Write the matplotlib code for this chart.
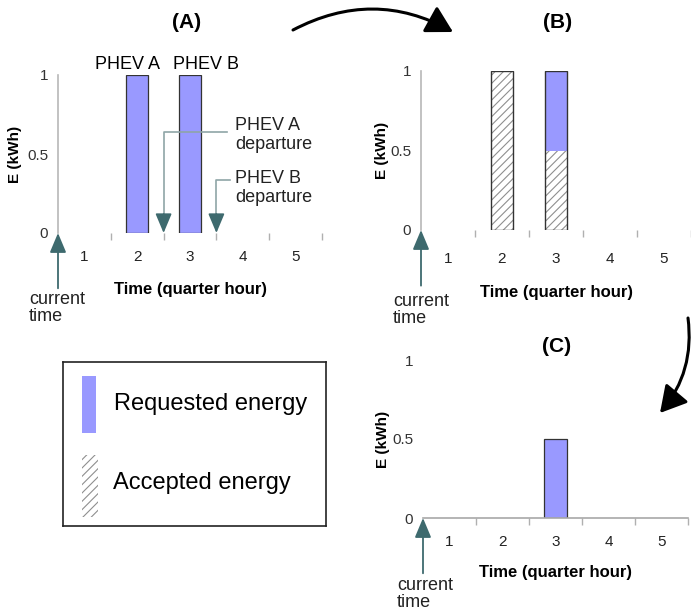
import numpy as np
import matplotlib
matplotlib.use("Agg")
import matplotlib.pyplot as plt
from matplotlib.patches import Rectangle, FancyArrowPatch

plt.rcParams['font.family'] = ['Liberation Sans', 'DejaVu Sans']
plt.rcParams['hatch.linewidth'] = 0.8

# ── data ────────────────────────────────────────────
slots = np.array([1, 2, 3, 4, 5])           # quarter hours
req_a = np.array([0, 1, 1, 0, 0])           # (A) requested energy, kWh
acc_b = np.array([0, 1, 0.5, 0, 0])         # (B) accepted energy
req_b = np.array([0, 0, 0.5, 0, 0])         # (B) still requested
req_c = np.array([0, 0, 0.5, 0, 0])         # (C) requested energy
ev_names = ["PHEV A", "PHEV B"]
ev_departure = [2.5, 3.5]
yticks = [0, 0.5, 1]
ytick_labels = ["0", "0.5", "1"]

BLUE = "#9999ff"
HATCH_GRAY = "#8f8f8f"
TEAL = "#3e6a6e"
LINE_GRAY = "#8fa5a7"
W, H = 691, 614
BAR_W = 0.42

fig = plt.figure(figsize=(W / 100, H / 100), dpi=100)


def px_axes(left, top, right, bottom):
    return fig.add_axes([left / W, 1 - bottom / H, (right - left) / W, (bottom - top) / H])


def ftext(px, py, s, **kw):
    fig.text(px / W, 1 - py / H, s, **kw)


def style(ax, left_line, bottom_line, tick_pad, xlab_y, ylab_x):
    ax.set_xlim(0.5, 5.5)
    ax.set_ylim(0, 1)
    ax.set_xticks(slots)
    ax.set_xticks(slots + 0.5, minor=True)
    ax.set_yticks(yticks)
    ax.set_yticklabels(ytick_labels)
    ax.tick_params(axis='x', which='major', length=0, pad=tick_pad, labelsize=11, labelcolor='#222222')
    ax.tick_params(axis='x', which='minor', length=5, width=1, color='#b0b0b0')
    ax.tick_params(axis='y', length=0, pad=7, labelsize=11, labelcolor='#333333')
    for side in ['top', 'right']:
        ax.spines[side].set_visible(False)
    ax.spines['left'].set_visible(left_line)
    ax.spines['left'].set_color('#b8b8b8')
    ax.spines['left'].set_linewidth(1.2)
    ax.spines['bottom'].set_visible(bottom_line)
    ax.spines['bottom'].set_color('#a8a8a8')
    ax.spines['bottom'].set_linewidth(1.2)
    ax.patch.set_alpha(0)
    ax.set_xlabel("Time (quarter hour)", fontsize=12, fontweight='bold')
    ax.xaxis.set_label_coords(0.5, xlab_y)
    ax.set_ylabel("E (kWh)", fontsize=11, fontweight='bold')
    ax.yaxis.set_label_coords(ylab_x, 0.5)
    # "current time" arrow
    ax.annotate("", xy=(0.5, 0), xytext=(0.5, -0.35), xycoords='data',
                arrowprops=dict(arrowstyle='-|>,head_length=1.0,head_width=0.42',
                                color=TEAL, lw=1.3, mutation_scale=12,
                                shrinkA=0, shrinkB=0),
                annotation_clip=False)


def edge_lw(vals, lw):
    return [lw if v > 0 else 0 for v in vals]


# ── (A) requests ────────────────────────────────────
ax_a = px_axes(58, 75, 322, 233)
style(ax_a, True, False, 12, -0.31, -0.136)
ax_a.bar(slots, req_a, BAR_W, color=BLUE, edgecolor='#333333', linewidth=edge_lw(req_a, 0.9))
for name, x, dx in zip(ev_names, slots[req_a > 0], [-0.18, 0.31]):
    ax_a.text(x + dx, 1.065, name, ha='center', va='center', fontsize=13, clip_on=False)
for name, dep, y_turn, x_end, y_txt in zip(ev_names, ev_departure, [0.64, 0.335],
                                           [3.70, 3.76], [0.62, 0.285]):
    ax_a.plot([x_end, dep, dep], [y_turn, y_turn, 0.1], color=LINE_GRAY, lw=1.2, clip_on=False)
    ax_a.annotate("", xy=(dep, 0), xytext=(dep, 0.12),
                  arrowprops=dict(arrowstyle='-|>,head_length=1.0,head_width=0.42',
                                  color=TEAL, lw=1.2, mutation_scale=12,
                                  shrinkA=0, shrinkB=0))
    ax_a.text(3.85, y_txt, name + "\ndeparture", ha='left', va='center', fontsize=13,
              color='#222222', clip_on=False)

# ── (B) accepted schedule ───────────────────────────
ax_b = px_axes(421, 71, 691, 230)
style(ax_b, True, False, 16, -0.346, -0.119)
ax_b.bar(slots, acc_b, BAR_W, color='white', hatch='////', edgecolor=HATCH_GRAY, linewidth=0)
ax_b.bar(slots, req_b, BAR_W, bottom=acc_b, color=BLUE, linewidth=0)
tot_b = acc_b + req_b
ax_b.bar(slots, tot_b, BAR_W, fill=False, edgecolor='#333333', linewidth=edge_lw(tot_b, 1.0))

# ── (C) remaining request ───────────────────────────
ax_c = px_axes(423, 360, 688, 518)
style(ax_c, False, True, 12, -0.30, -0.125)
ax_c.bar(slots, req_c, BAR_W, color=BLUE, edgecolor='#333333', linewidth=edge_lw(req_c, 0.9))

# ── panel titles and notes ──────────────────────────
ftext(187, 22, "(A)", ha='center', va='center', fontsize=15, fontweight='bold')
ftext(558, 23, "(B)", ha='center', va='center', fontsize=15, fontweight='bold')
ftext(557, 347, "(C)", ha='center', va='center', fontsize=15, fontweight='bold')
for px, py in [(29, 291), (393, 293), (397, 577)]:
    ftext(px, py, "current\ntime", ha='left', va='top', fontsize=13, color='#222222',
          linespacing=1.0)

# ── flow arrows ─────────────────────────────────────
for (x0, y0), (x1, y1), rad in [((293, 30), (453, 32), -0.27),
                                ((688, 318), (660, 413), -0.22)]:
    fig.patches.append(FancyArrowPatch(
        (x0 / W, 1 - y0 / H), (x1 / W, 1 - y1 / H), transform=fig.transFigure,
        connectionstyle=f"arc3,rad={rad}",
        arrowstyle='-|>,head_length=0.8,head_width=0.45', mutation_scale=20,
        lw=2.2, color='black', shrinkA=0, shrinkB=0))

# ── legend box ──────────────────────────────────────
ax_l = px_axes(63, 362, 326, 526)
ax_l.set_xlim(0, 263)
ax_l.set_ylim(164, 0)
ax_l.set_xticks([])
ax_l.set_yticks([])
for sp in ax_l.spines.values():
    sp.set_color('#222222')
    sp.set_linewidth(1.2)
ax_l.add_patch(Rectangle((19, 14), 14, 57, facecolor=BLUE, edgecolor='none'))
ax_l.add_patch(Rectangle((19, 93), 16, 62, facecolor='white', hatch='////',
                         edgecolor=HATCH_GRAY, linewidth=0))
ax_l.text(51, 42, "Requested energy", ha='left', va='center', fontsize=17)
ax_l.text(50, 121, "Accepted energy", ha='left', va='center', fontsize=17)

fig.savefig("out.png", dpi=100)
